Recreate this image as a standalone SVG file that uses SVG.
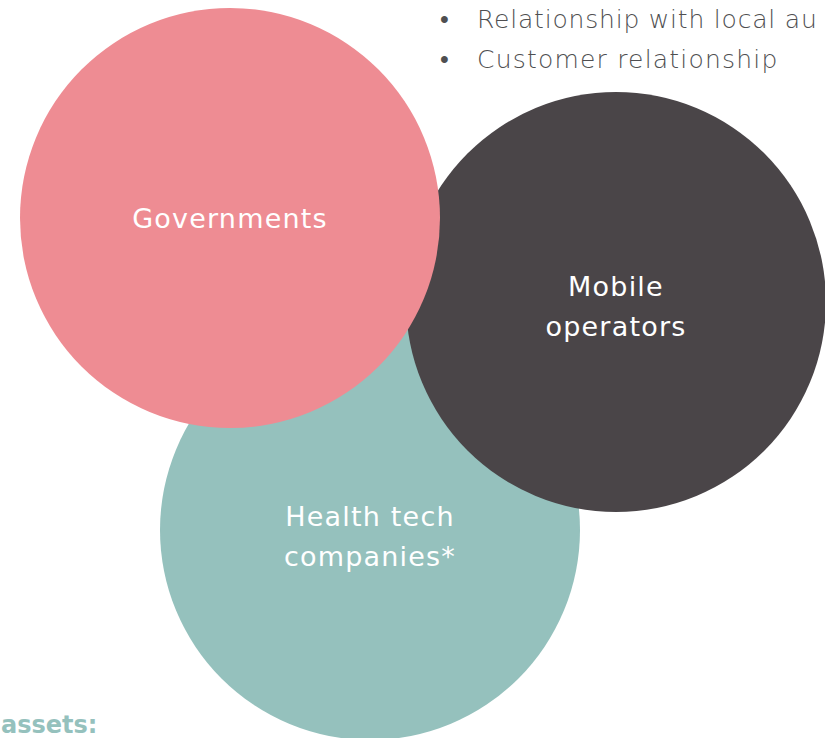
<svg xmlns="http://www.w3.org/2000/svg" width="825" height="738" viewBox="0 0 825 738">
<style>
.lbl{font-family:"DejaVu Sans","Liberation Sans",sans-serif;font-size:27px;fill:#ffffff;text-anchor:middle;letter-spacing:1.2px}
.bul{font-family:"DejaVu Sans","Liberation Sans",sans-serif;font-weight:200;font-size:25px;fill:#4f4f51;letter-spacing:1.2px}
</style>
<rect width="825" height="738" fill="#ffffff"/>
<g id="bullets">
<text class="bul" x="440" y="28">•</text>
<text class="bul" x="477" y="28" style="letter-spacing:0.8px">Relationship with local au</text>
<text class="bul" x="440" y="68">•</text>
<text class="bul" x="477" y="68">Customer relationship</text>
</g>
<g id="health-tech">
<circle cx="370" cy="530" r="210" fill="#95c1bd"/>
<text class="lbl" x="370" y="526">Health tech</text>
<text class="lbl" x="370" y="566">companies*</text>
</g>
<g id="mobile-operators">
<circle cx="616" cy="302" r="210" fill="#4a4548"/>
<text class="lbl" x="616" y="296">Mobile</text>
<text class="lbl" x="616" y="336">operators</text>
</g>
<g id="governments">
<circle cx="230" cy="218" r="210" fill="#ee8c93"/>
<text class="lbl" x="230" y="228">Governments</text>
</g>
<g id="assets">
<text x="1" y="733" style="font-family:'DejaVu Sans','Liberation Sans',sans-serif;font-weight:bold;font-size:24px;fill:#95c1bd">assets:</text>
</g>
<g id="connectors"/>
</svg>
